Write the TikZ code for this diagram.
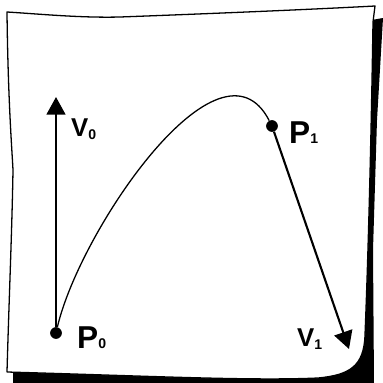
\documentclass[tikz,border=0pt]{standalone}
\usepackage{fontspec}
\setmainfont{Liberation Sans}
\usetikzlibrary{arrows.meta}
\newcommand{\lsub}[2][0pt]{\raisebox{#1}{\fontsize{12}{12}\selectfont #2}}
\begin{document}
\begin{tikzpicture}[
  x=0.03cm, y=-0.03cm,
  sheet/.style={fill=white, draw=black, line width=1.1pt, line join=round},
  shadow/.style={fill=black},
  curve/.style={line width=1.1pt},
  vec/.style={line width=1.8pt, -{Triangle[length=15pt, width=16pt]}},
  dot/.style={circle, fill=black, inner sep=0pt, minimum size=10pt},
  plabel/.style={font=\fontsize{27}{27}\selectfont\bfseries, inner sep=0pt, anchor=base west},
  vlabel/.style={font=\fontsize{22}{22}\selectfont\bfseries, inner sep=0pt, anchor=base west},
]
\useasboundingbox (0,0) rectangle (383,383);

% ══ Shadow and sheet ══
\fill[shadow] (360,22) -- (383,18) -- (377,120) -- (373,250) -- (374,383) -- (13,383) -- (13,371) -- cycle;
\draw[sheet] (7,12) .. controls (40,14) and (80,18) .. (120,17)
  .. controls (200,14) and (300,10) .. (375,6)
  -- (373,22) .. controls (371,150) and (368,260) .. (365,335)
  .. controls (364,366) and (350,375) .. (318,378)
  .. controls (250,381) and (150,376) .. (7,372)
  .. controls (9,300) and (12,230) .. (13,170)
  .. controls (12,150) and (8,100) .. (7,12) -- cycle;

% ══ End points ══
\node[dot] (p0) at (56,333) {};
\node[dot] (p1) at (272,126) {};
\coordinate (v0tip) at (56,97);
\coordinate (v1tip) at (349,349);

% ══ Tangent vectors and curve ══
\draw[vec] (p0) -- (v0tip);
\draw[vec] (p1) -- (v1tip);
\draw[curve] (p0) .. controls (80,230) and (220,25) .. (p1);

% ══ Labels ══
\node[vlabel] (v0lbl) at (71,136) {V\lsub[-3pt]{0}};
\node[plabel] (p1lbl) at (289,143) {P\lsub{1}};
\node[plabel] (p0lbl) at (77,348) {P\lsub{0}};
\node[vlabel] (v1lbl) at (297,346) {V\lsub[-3pt]{1}};

\end{tikzpicture}
\end{document}
